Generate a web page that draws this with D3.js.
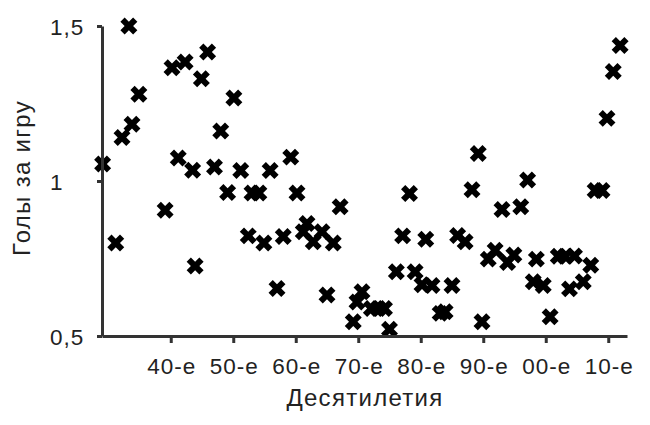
<!DOCTYPE html>
<html>
<head>
<meta charset="utf-8">
<script src="https://cdn.jsdelivr.net/npm/d3@7"></script>
<style>
  html, body { margin: 0; padding: 0; background: #fff; }
  svg { display: block; }
  text { font-family: "Liberation Sans", Arial, sans-serif; fill: #222; }
</style>
</head>
<body>
<svg id="chart" width="650" height="425"></svg>
<script>
const years = [1929.1, 1931.2, 1932.2, 1933.3, 1933.8, 1934.9, 1939.1, 1940.2, 1941.2, 1942.3,
  1943.5, 1943.9, 1944.9, 1945.9, 1947.0, 1948.0, 1949.1, 1950.1, 1951.2, 1952.4,
  1953.0, 1954.1, 1954.9, 1955.9, 1957.0, 1958.0, 1959.2, 1960.2, 1961.2, 1961.8,
  1962.8, 1964.2, 1965.0, 1966.0, 1967.1, 1969.2, 1969.8, 1970.6, 1972.1, 1973.2,
  1974.2, 1975.0, 1976.1, 1977.1, 1978.2, 1979.1, 1980.2, 1980.8, 1981.8, 1983.1,
  1983.9, 1985.0, 1985.9, 1987.1, 1988.2, 1989.2, 1989.8, 1990.8, 1991.9, 1993.0,
  1993.9, 1994.9, 1996.0, 1997.1, 1998.0, 1998.5, 1999.6, 2000.7, 2002.0, 2003.1,
  2003.8, 2004.6, 2006.0, 2007.2, 2007.9, 2009.0, 2009.8, 2010.8, 2011.9];
const goalsPerGame = [1.055, 0.80, 1.14, 1.50, 1.183, 1.28, 0.906, 1.365, 1.074, 1.384,
  1.035, 0.726, 1.33, 1.416, 1.045, 1.161, 0.963, 1.268, 1.034, 0.823,
  0.961, 0.961, 0.80, 1.034, 0.653, 0.821, 1.077, 0.961, 0.836, 0.863,
  0.804, 0.836, 0.632, 0.80, 0.917, 0.546, 0.61, 0.643, 0.589, 0.589,
  0.589, 0.522, 0.707, 0.823, 0.96, 0.707, 0.665, 0.812, 0.663, 0.573,
  0.578, 0.663, 0.824, 0.804, 0.972, 1.089, 0.546, 0.748, 0.777, 0.908,
  0.737, 0.761, 0.917, 1.003, 0.675, 0.748, 0.663, 0.562, 0.757, 0.757,
  0.652, 0.758, 0.675, 0.728, 0.969, 0.969, 1.202, 1.353, 1.437];
const decadeTicks = [1940, 1950, 1960, 1970, 1980, 1990, 2000, 2010];
const decadeLabels = ["40-е", "50-е", "60-е", "70-е", "80-е", "90-е", "00-е", "10-е"];
const yTicks = [0.5, 1, 1.5];
const yTickLabels = ["0,5", "1", "1,5"];
const xTitle = "Десятилетия";
const yTitle = "Голы за игру";

const svg = d3.select("#chart");
const x = d3.scaleLinear().domain([1929, 2013]).range([102, 627]);
const y = d3.scaleLinear().domain([0.5, 1.5]).range([336, 26]);
const axisColor = "#333";

// Points
const sym = d3.symbol().type(d3.symbolCross).size(180);
svg.append("g").selectAll("path").data(years).join("path")
  .attr("d", sym)
  .attr("transform", (d, i) => `translate(${x(d)},${y(goalsPerGame[i])}) rotate(45)`)
  .attr("fill", "#000");

// Y axis
const yAxis = svg.append("g").attr("transform", `translate(${x.range()[0]},0)`)
  .call(d3.axisLeft(y).tickValues(yTicks).tickSize(5).tickSizeOuter(0)
    .tickFormat((d, i) => yTickLabels[i]));
yAxis.select(".domain").attr("stroke", axisColor).attr("stroke-width", 3);
yAxis.selectAll(".tick line").attr("stroke", axisColor).attr("stroke-width", 3);
yAxis.selectAll(".tick text").attr("text-anchor", "start").attr("x", -52)
  .attr("font-size", 22.5).attr("letter-spacing", 1).attr("dy", "0.36em").attr("fill", "#222");

// X axis
const xAxis = svg.append("g").attr("transform", `translate(0,${y.range()[0]})`)
  .call(d3.axisBottom(x).tickValues(decadeTicks).tickSize(7).tickSizeOuter(0)
    .tickFormat((d, i) => decadeLabels[i]));
xAxis.select(".domain").attr("stroke", axisColor).attr("stroke-width", 3);
xAxis.selectAll(".tick line").attr("stroke", axisColor).attr("stroke-width", 3);
xAxis.selectAll(".tick text").attr("y", 38).attr("dy", 0).attr("dx", 0.5)
  .attr("font-size", 22.5).attr("letter-spacing", 1).attr("fill", "#222");

// Titles
svg.append("text").attr("x", 365).attr("y", 406).attr("text-anchor", "middle")
  .attr("font-size", 24).attr("letter-spacing", 1.3).text(xTitle);
svg.append("text").attr("transform", "translate(30,178) rotate(-90)")
  .attr("text-anchor", "middle").attr("font-size", 24).attr("letter-spacing", 1.3).text(yTitle);
</script>
</body>
</html>
